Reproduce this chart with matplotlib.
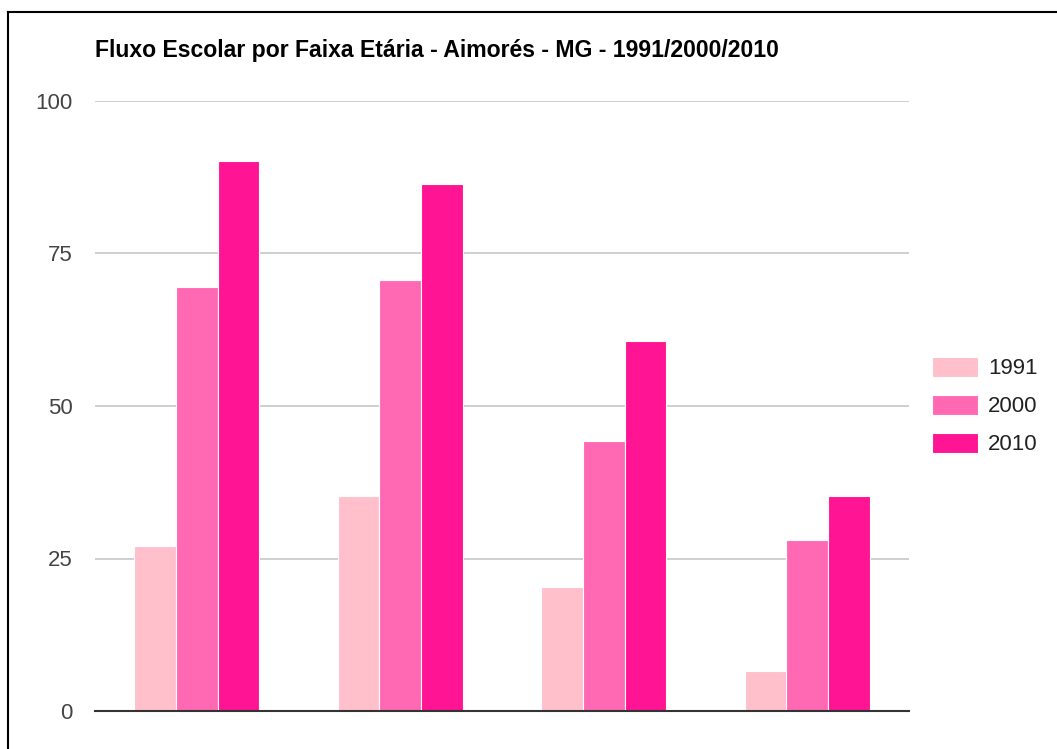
import numpy as np
import matplotlib.pyplot as plt
from matplotlib.lines import Line2D

# faixas etarias (sem rotulos visiveis no grafico original)
categorias = ['5 a 6 anos', '11 a 13 anos', '15 a 17 anos', '18 a 20 anos']
anos = ['1991', '2000', '2010']
v1991 = [27.1, 35.2, 20.3, 6.6]
v2000 = [69.5, 70.7, 44.3, 28.0]
v2010 = [90.2, 86.4, 60.7, 35.2]
cores = ['#FFC0CB', '#FF69B4', '#FF1493']

plt.rcParams['font.family'] = ['Liberation Sans', 'DejaVu Sans']

fig = plt.figure(figsize=(10.57, 7.49), dpi=100)
ax = fig.add_axes([95/1057, 1-711/749, (909-95)/1057, (711-101)/749])

x = np.arange(len(categorias))
w = 0.205
for k, vals in enumerate([v1991, v2000, v2010]):
    ax.bar(x + (k-1)*w, vals, w, color=cores[k], edgecolor='white', linewidth=0.8,
           label=anos[k], zorder=3)

ax.set_xlim(-0.5, 3.5)
ax.set_ylim(0, 100)
ax.set_yticks([0, 25, 50, 75, 100])
ax.set_xticks(x)
ax.set_xticklabels([])
ax.tick_params(axis='x', length=0)
ax.tick_params(axis='y', length=0, labelsize=16, labelcolor='#444444', pad=16)
ax.grid(axis='y', color='#cccccc', linewidth=1.3, zorder=0)
ax.set_axisbelow(True)
for s in ['top', 'right', 'left']:
    ax.spines[s].set_visible(False)
ax.spines['bottom'].set_color('#333333')
ax.spines['bottom'].set_linewidth(1.5)
ax.spines['bottom'].set_zorder(4)

leg = ax.legend(loc='center left', bbox_to_anchor=(1.028, 0.5), frameon=False,
                fontsize=16, handlelength=2.07, handleheight=1.04,
                labelspacing=0.68, handletextpad=0.45, borderaxespad=0,
                borderpad=0)
for t in leg.get_texts():
    t.set_color('#222222')

fig.text(95/1057, 1-50/749, 'Fluxo Escolar por Faixa Etária - Aimorés - MG - 1991/2000/2010',
         fontsize=16.6, fontweight='bold', va='center', ha='left')

# moldura (topo e esquerda)
fig.add_artist(Line2D([8/1057, 1], [1-12/749, 1-12/749], color='black', lw=1.5,
                      transform=fig.transFigure))
fig.add_artist(Line2D([8/1057, 8/1057], [0, 1-12/749], color='black', lw=1.5,
                      transform=fig.transFigure))

plt.savefig('out.png', dpi=100)
